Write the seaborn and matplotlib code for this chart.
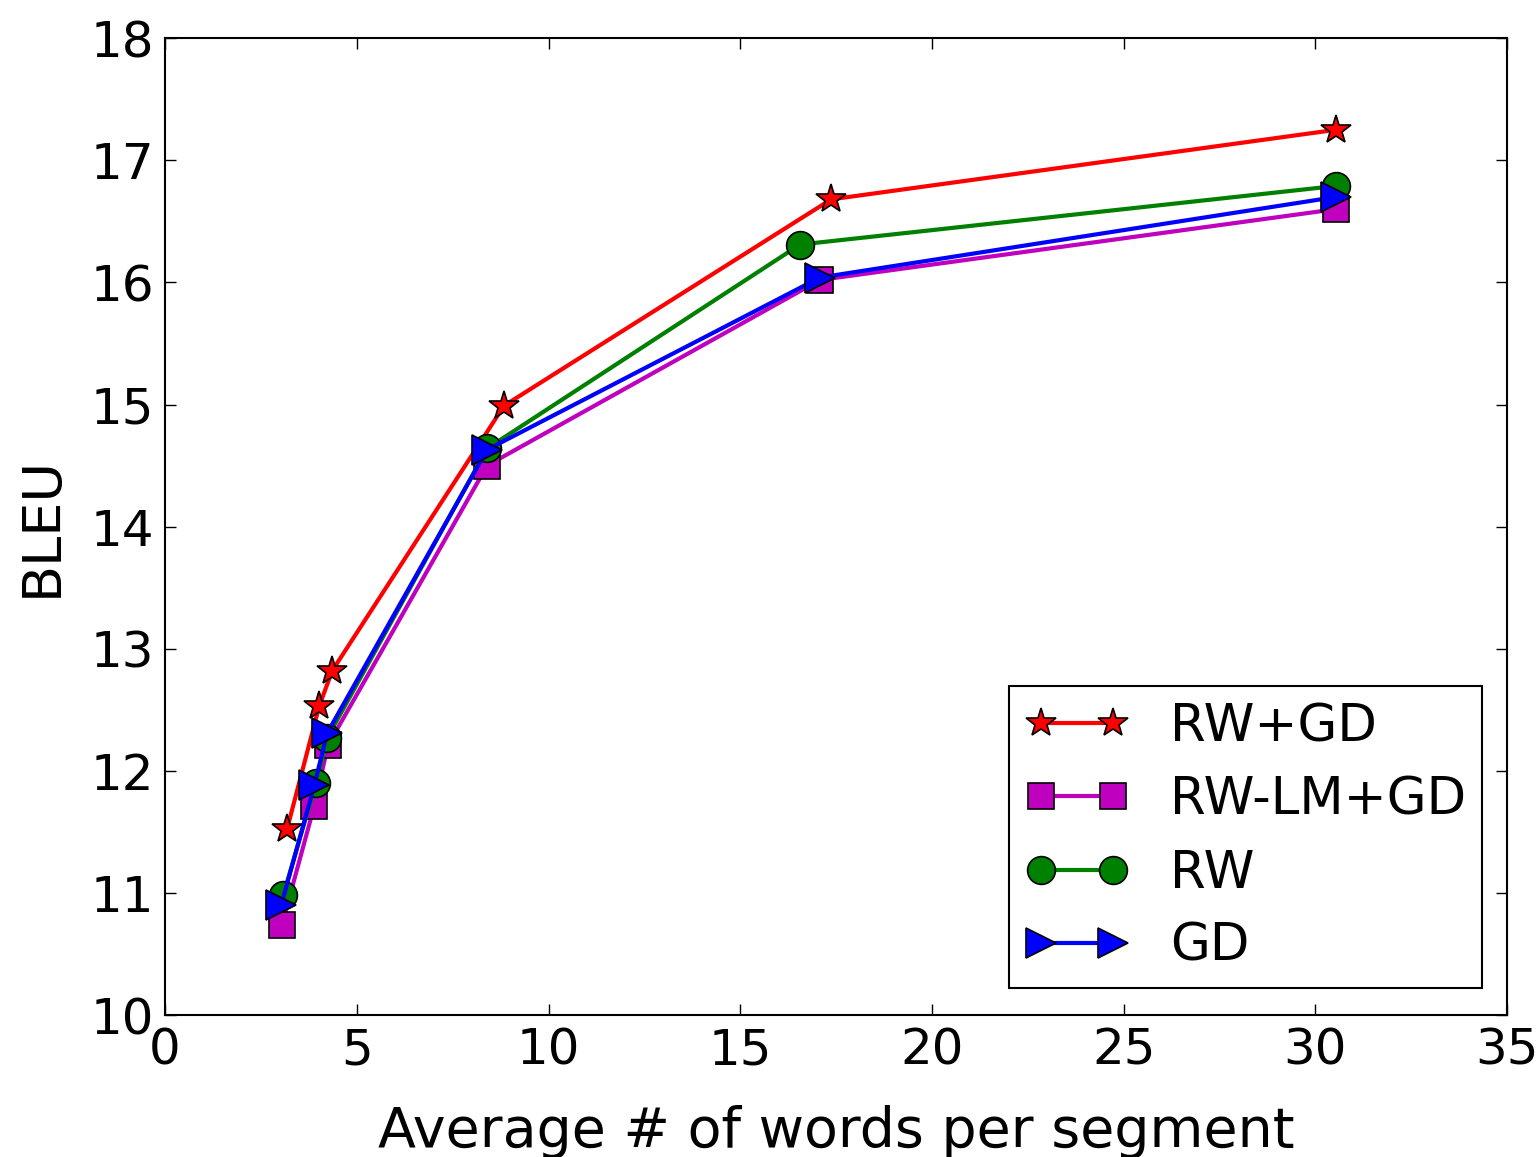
import numpy as np
import pandas as pd
import matplotlib
matplotlib.use("Agg")
import matplotlib.pyplot as plt
import seaborn as sns

# Values
words_rwgd = [3.18, 4.02, 4.36, 8.84, 17.37, 30.54]
bleu_rwgd = [11.52, 12.53, 12.82, 14.99, 16.68, 17.25]

words_lm = [3.05, 3.89, 4.25, 8.40, 17.08, 30.54]
bleu_lm = [10.74, 11.71, 12.21, 14.50, 16.02, 16.60]

words_rw = [3.08, 3.94, 4.23, 8.40, 16.56, 30.54]
bleu_rw = [10.98, 11.90, 12.27, 14.64, 16.31, 16.79]

words_gd = [3.03, 3.89, 4.23, 8.40, 17.08, 30.54]
bleu_gd = [10.90, 11.88, 12.31, 14.63, 16.04, 16.70]

sns.set_style("ticks")
plt.rcParams['font.family'] = ['DejaVu Sans']
plt.rcParams['xtick.direction'] = 'in'
plt.rcParams['ytick.direction'] = 'in'
plt.rcParams['text.color'] = 'black'
plt.rcParams['axes.labelcolor'] = 'black'
plt.rcParams['xtick.color'] = 'black'
plt.rcParams['ytick.color'] = 'black'

fig = plt.figure(figsize=(15.38, 11.57), dpi=100)
ax = fig.add_axes([0.1073, 0.1227, 0.8727, 0.8443])

series = [
    ('RW+GD', words_rwgd, bleu_rwgd, 'r', '*', 22),
    ('RW-LM+GD', words_lm, bleu_lm, 'm', 's', 19),
    ('RW', words_rw, bleu_rw, 'g', 'o', 20),
    ('GD', words_gd, bleu_gd, 'b', '>', 21),
]

for name, xs, ys, col, mk, ms in series:
    df = pd.DataFrame({'x': xs, 'y': ys})
    sns.lineplot(data=df, x='x', y='y', ax=ax, color=col, marker=mk,
                 markersize=ms, markeredgecolor='black', markeredgewidth=1.2,
                 linewidth=3, label=name, sort=False, estimator=None)

ax.set_xlim(0, 35)
ax.set_ylim(10, 18)
ax.set_xticks(np.arange(0, 36, 5))
ax.set_yticks(np.arange(10, 19, 1))
ax.tick_params(axis='both', which='both', labelsize=36, length=8, width=1,
               top=True, right=True, pad=8)
for s in ax.spines.values():
    s.set_linewidth(1.5)
    s.set_color('black')

ax.set_xlabel('Average # of words per segment', fontsize=40, labelpad=22)
ax.set_ylabel('BLEU', fontsize=39, labelpad=16)

leg = ax.legend(loc='lower right', numpoints=2, fontsize=37, frameon=True,
                fancybox=False, edgecolor='black', framealpha=1,
                borderpad=0.32, handlelength=2.0, labelspacing=0.45,
                handletextpad=0.8, borderaxespad=0,
                bbox_to_anchor=(0.9814, 0.0276))
leg.get_frame().set_linewidth(1.5)

fig.savefig('out.png', dpi=100)
